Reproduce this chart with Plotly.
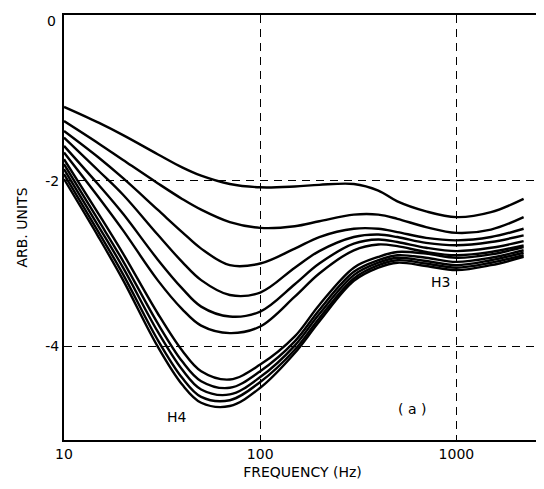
import plotly.graph_objects as go

freq = [10, 15, 20, 30, 40, 50, 70, 100, 150, 200, 300, 400, 500, 700, 1000, 1500, 2200]

c1 = [-1.11, -1.30, -1.45, -1.68, -1.84, -1.94, -2.04, -2.08, -2.07, -2.05, -2.04, -2.12, -2.25, -2.37, -2.44, -2.38, -2.22]
c2 = [-1.28, -1.55, -1.75, -2.03, -2.22, -2.35, -2.50, -2.57, -2.55, -2.49, -2.41, -2.41, -2.46, -2.56, -2.63, -2.59, -2.44]
c3 = [-1.40, -1.72, -1.97, -2.35, -2.62, -2.82, -3.02, -3.00, -2.82, -2.68, -2.58, -2.58, -2.62, -2.69, -2.72, -2.68, -2.58]
c4 = [-1.48, -1.88, -2.17, -2.65, -2.98, -3.20, -3.38, -3.35, -3.05, -2.85, -2.68, -2.65, -2.68, -2.75, -2.78, -2.74, -2.66]
c5 = [-1.58, -2.05, -2.40, -2.95, -3.30, -3.52, -3.64, -3.58, -3.25, -3.00, -2.76, -2.71, -2.74, -2.81, -2.85, -2.81, -2.73]
c6 = [-1.66, -2.20, -2.60, -3.20, -3.55, -3.75, -3.84, -3.76, -3.40, -3.12, -2.84, -2.77, -2.79, -2.86, -2.90, -2.86, -2.78]
c7 = [-1.74, -2.40, -2.88, -3.60, -4.05, -4.30, -4.40, -4.22, -3.88, -3.50, -3.05, -2.92, -2.86, -2.88, -2.93, -2.89, -2.80]
c8 = [-1.80, -2.48, -2.97, -3.72, -4.18, -4.42, -4.50, -4.30, -3.94, -3.56, -3.10, -2.96, -2.90, -2.93, -2.98, -2.93, -2.84]
c9 = [-1.86, -2.55, -3.05, -3.82, -4.28, -4.52, -4.58, -4.37, -3.99, -3.61, -3.14, -2.99, -2.93, -2.97, -3.02, -2.96, -2.87]
c10 = [-1.92, -2.62, -3.13, -3.92, -4.38, -4.61, -4.65, -4.43, -4.04, -3.66, -3.18, -3.02, -2.96, -3.00, -3.05, -2.99, -2.90]
c11 = [-1.98, -2.68, -3.20, -4.00, -4.46, -4.68, -4.72, -4.50, -4.08, -3.70, -3.21, -3.05, -2.99, -3.03, -3.08, -3.02, -2.92]

curves = [c1, c2, c3, c4, c5, c6, c7, c8, c9, c10, c11]

x_ticks = [10, 100, 1000]
x_tick_labels = ["10", "100", "1000"]
y_ticks = [-2, -4]
y_tick_labels = ["-2", "-4"]
y_top_label = "0"

FONT = "DejaVu Sans"

fig = go.Figure()
for c in curves:
    fig.add_trace(go.Scatter(
        x=freq, y=c, mode="lines",
        line=dict(color="black", width=2.4, shape="spline", smoothing=1.0),
        showlegend=False, hoverinfo="skip",
    ))

fig.add_annotation(x=1.574, y=-4.85, text="H4", showarrow=False, xref="x", yref="y",
                   font=dict(family=FONT, size=14, color="black"))
fig.add_annotation(x=2.919, y=-3.22, text="H3", showarrow=False, xref="x", yref="y",
                   font=dict(family=FONT, size=14, color="black"))
fig.add_annotation(x=2.772, y=-4.76, text="( a )", showarrow=False, xref="x", yref="y",
                   font=dict(family=FONT, size=14, color="black"))
# top tick label "0" (drawn as annotation so it is not hidden at the page edge)
fig.add_annotation(x=0, y=0, xref="paper", yref="y", text=y_top_label, showarrow=False,
                   xanchor="right", yanchor="middle", xshift=-6, yshift=-6,
                   font=dict(family=FONT, size=14, color="black"))

# page body has an 8px default margin; compensate so the plot lands where the reference has it
fig.update_layout(
    width=536, height=481,
    margin=dict(l=56, r=1, t=7, b=49),
    paper_bgcolor="white", plot_bgcolor="white",
    font=dict(family=FONT, size=14, color="black"),
)
fig.update_xaxes(
    type="log", range=[1, 3.431],
    tickvals=x_ticks, ticktext=x_tick_labels,
    showgrid=True, gridcolor="black", gridwidth=1, griddash="8px,6px",
    showline=True, linecolor="black", linewidth=2, mirror=True,
    ticks="", zeroline=False,
    title=dict(text="FREQUENCY (Hz)", font=dict(family=FONT, size=14), standoff=6),
)
fig.update_yaxes(
    range=[-5.13, 0],
    tickvals=y_ticks, ticktext=y_tick_labels,
    showgrid=True, gridcolor="black", gridwidth=1, griddash="8px,6px",
    showline=True, linecolor="black", linewidth=2, mirror=True,
    ticks="", zeroline=False,
    title=dict(text="ARB. UNITS", font=dict(family=FONT, size=14), standoff=14),
)

fig.write_html("out.html")
